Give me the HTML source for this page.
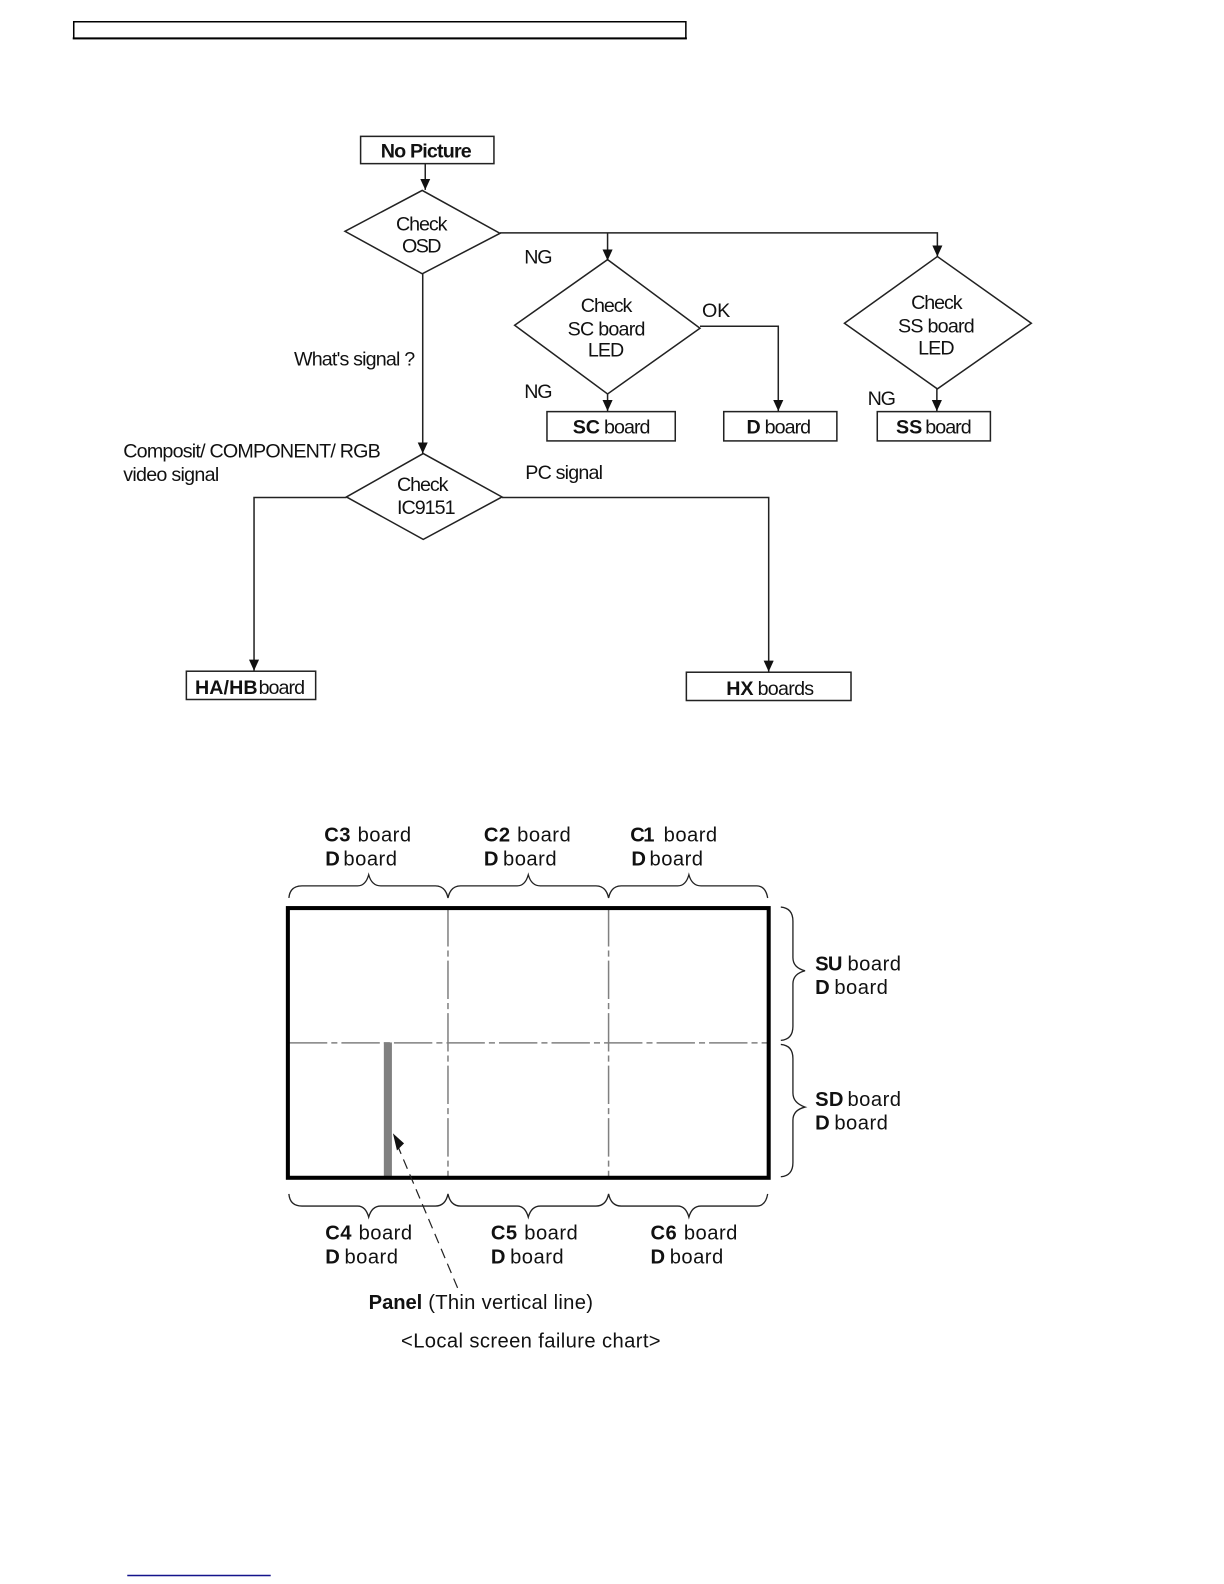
<!DOCTYPE html>
<html><head><meta charset="utf-8"><style>
html,body{margin:0;padding:0;background:#fff}
svg{display:block}
text{font-family:"Liberation Sans",sans-serif;fill:#111}
.f{font-size:19.5px}
.l{font-size:20px}
.b{font-weight:bold}
</style></head><body>
<svg width="1224" height="1584" viewBox="0 0 1211.76 1568.16" xmlns="http://www.w3.org/2000/svg">
<defs>
<marker id="a" markerWidth="12" markerHeight="12" refX="11" refY="5" orient="auto" markerUnits="userSpaceOnUse"><path d="M0 0L11 5L0 10Z" fill="#111"/></marker>
</defs>
<rect width="1224" height="1584" fill="#fff"/>
<!-- header box -->
<path d="M73 21.5H679V38H73Z" fill="none" stroke="#000" stroke-width="1.5"/>
<rect x="72" y="37" width="608" height="2" fill="#000"/>
<!-- flow shapes -->
<g fill="none" stroke="#222" stroke-width="1.5">
<rect x="357" y="135" width="132" height="27"/>
<path d="M341.500 229L418 188.500L495 231L418 271Z"/>
<path d="M509.500 323L601.500 258L693 326L601.500 391Z" transform="translate(0,-1)"/>
<path d="M836 320L928 254L1021 320L928 385Z"/>
<path d="M343 492L419 449L497 492L419 534Z"/>
<rect x="541.500" y="407.500" width="127" height="29"/>
<rect x="716.500" y="407.500" width="112" height="29"/>
<rect x="868.500" y="407.500" width="112" height="29"/>
<rect x="184.500" y="664.500" width="128" height="28"/>
<rect x="679.500" y="665.500" width="163" height="28"/>
<path d="M421 162V188" marker-end="url(#a)"/>
<path d="M495 230.500H928V254" marker-end="url(#a)"/>
<path d="M601.500 230.500V258" marker-end="url(#a)"/>
<path d="M418.500 271V449" marker-end="url(#a)"/>
<path d="M601.500 390V407" marker-end="url(#a)"/>
<path d="M693 323H770.500V407" marker-end="url(#a)"/>
<path d="M927.500 385V407" marker-end="url(#a)"/>
<path d="M343 492.500H251.500V664" marker-end="url(#a)"/>
<path d="M497 492.500H761V665" marker-end="url(#a)"/>
</g>
<!-- flow text -->
<g class="f">
<text x="377" y="156" class="b" textLength="90" lengthAdjust="spacing">No Picture</text>
<text x="392" y="228" textLength="51" lengthAdjust="spacing">Check</text>
<text x="398" y="250" textLength="39" lengthAdjust="spacing">OSD</text>
<text x="519" y="261" textLength="28" lengthAdjust="spacing">NG</text>
<text x="575" y="309" textLength="51" lengthAdjust="spacing">Check</text>
<text x="562" y="332" textLength="77" lengthAdjust="spacing">SC board</text>
<text x="582" y="353" textLength="36" lengthAdjust="spacing">LED</text>
<text x="695" y="314" textLength="28" lengthAdjust="spacing">OK</text>
<text x="519" y="394" textLength="28" lengthAdjust="spacing">NG</text>
<text x="902" y="306" textLength="51" lengthAdjust="spacing">Check</text>
<text x="889" y="329" textLength="76" lengthAdjust="spacing">SS board</text>
<text x="909" y="351" textLength="36" lengthAdjust="spacing">LED</text>
<text x="859" y="401" textLength="28" lengthAdjust="spacing">NG</text>
<text x="291" y="362" textLength="120" lengthAdjust="spacing">What's signal ?</text>
<text x="122" y="453" textLength="255" lengthAdjust="spacing">Composit/ COMPONENT/ RGB</text>
<text x="122" y="476" textLength="95" lengthAdjust="spacing">video signal</text>
<text x="393" y="486" textLength="51" lengthAdjust="spacing">Check</text>
<text x="393" y="509" textLength="58" lengthAdjust="spacing">IC9151</text>
<text x="520" y="474" textLength="77" lengthAdjust="spacing">PC signal</text>
<text x="567" y="429" class="b" textLength="27" lengthAdjust="spacing">SC</text>
<text x="598" y="429" textLength="46" lengthAdjust="spacing">board</text>
<text x="739" y="429" class="b" textLength="14" lengthAdjust="spacing">D</text>
<text x="757" y="429" textLength="46" lengthAdjust="spacing">board</text>
<text x="887" y="429" class="b" textLength="26" lengthAdjust="spacing">SS</text>
<text x="916" y="429" textLength="46" lengthAdjust="spacing">board</text>
<text x="193" y="687" class="b" textLength="62" lengthAdjust="spacing">HA/HB</text>
<text x="256" y="687" textLength="46" lengthAdjust="spacing">board</text>
<text x="719" y="688" class="b" textLength="27" lengthAdjust="spacing">HX</text>
<text x="750" y="688" textLength="56" lengthAdjust="spacing">boards</text>
</g>
<!-- panel -->
<rect x="380" y="1032" width="8" height="134" fill="#808080"/>
<g fill="none" stroke="#808080" stroke-width="1.500">
<path d="M286 1032.500H761" stroke-dasharray="38 4 6 4"/>
<path d="M443.500 899V1165" stroke-dasharray="38 4 6 4"/>
<path d="M602.500 899V1165" stroke-dasharray="38 4 6 4"/>
</g>
<rect x="285" y="899" width="476" height="267" fill="none" stroke="#000" stroke-width="4"/>
<!-- braces -->
<g fill="none" stroke="#222" stroke-width="1.300">
<path d="M286 889Q287 877 299 877H354Q362 877 365 866Q368 877 377 877H431Q441 877 443.500 889Q446 877 456 877H512Q520 877 523 866Q526 877 535 877H590Q600 877 602.500 889Q605 877 615 877H671Q679 877 682 866Q685 877 694 877H749Q758 877 760 889"/>
<path d="M286 1182Q287 1194 299 1194H354Q362 1194 365 1205Q368 1194 377 1194H431Q441 1194 443.500 1182Q446 1194 456 1194H512Q520 1194 523 1205Q526 1194 535 1194H590Q600 1194 602.500 1182Q605 1194 615 1194H671Q679 1194 682 1205Q685 1194 694 1194H749Q758 1194 760 1182"/>
<path d="M773 898Q785 899 785 912V948Q785 958 797 961Q785 964 785 974V1016Q785 1029 773 1030"/>
<path d="M773 1034Q785 1035 785 1048V1082Q785 1092 797 1096Q785 1099 785 1109V1151Q785 1164 773 1165"/>
</g>
<!-- dashed arrow -->
<path d="M453 1275L394 1135" fill="none" stroke="#222" stroke-width="1.200" stroke-dasharray="10 6"/>
<path d="M389 1122L400 1132L393 1139Z" fill="#111"/>
<!-- panel text -->
<g class="l">
<text x="321" y="833" class="b" textLength="26" lengthAdjust="spacing">C3</text><text x="354" y="833" textLength="53" lengthAdjust="spacing">board</text>
<text x="322" y="857" class="b" textLength="14" lengthAdjust="spacing">D</text><text x="340" y="857" textLength="53" lengthAdjust="spacing">board</text>
<text x="479" y="833" class="b" textLength="26" lengthAdjust="spacing">C2</text><text x="512" y="833" textLength="53" lengthAdjust="spacing">board</text>
<text x="479" y="857" class="b" textLength="14" lengthAdjust="spacing">D</text><text x="498" y="857" textLength="53" lengthAdjust="spacing">board</text>
<text x="624" y="833" class="b" textLength="24" lengthAdjust="spacing">C1</text><text x="657" y="833" textLength="53" lengthAdjust="spacing">board</text>
<text x="625" y="857" class="b" textLength="14" lengthAdjust="spacing">D</text><text x="643" y="857" textLength="53" lengthAdjust="spacing">board</text>
<text x="807" y="961" class="b" textLength="27" lengthAdjust="spacing">SU</text><text x="839" y="961" textLength="53" lengthAdjust="spacing">board</text>
<text x="807" y="984" class="b" textLength="14" lengthAdjust="spacing">D</text><text x="826" y="984" textLength="53" lengthAdjust="spacing">board</text>
<text x="807" y="1095" class="b" textLength="28" lengthAdjust="spacing">SD</text><text x="839" y="1095" textLength="53" lengthAdjust="spacing">board</text>
<text x="807" y="1118" class="b" textLength="14" lengthAdjust="spacing">D</text><text x="826" y="1118" textLength="53" lengthAdjust="spacing">board</text>
<text x="322" y="1227" class="b" textLength="26" lengthAdjust="spacing">C4</text><text x="355" y="1227" textLength="53" lengthAdjust="spacing">board</text>
<text x="322" y="1251" class="b" textLength="14" lengthAdjust="spacing">D</text><text x="341" y="1251" textLength="53" lengthAdjust="spacing">board</text>
<text x="486" y="1227" class="b" textLength="26" lengthAdjust="spacing">C5</text><text x="519" y="1227" textLength="53" lengthAdjust="spacing">board</text>
<text x="486" y="1251" class="b" textLength="14" lengthAdjust="spacing">D</text><text x="505" y="1251" textLength="53" lengthAdjust="spacing">board</text>
<text x="644" y="1227" class="b" textLength="26" lengthAdjust="spacing">C6</text><text x="677" y="1227" textLength="53" lengthAdjust="spacing">board</text>
<text x="644" y="1251" class="b" textLength="14" lengthAdjust="spacing">D</text><text x="663" y="1251" textLength="53" lengthAdjust="spacing">board</text>
<text x="365" y="1296" class="b" textLength="53" lengthAdjust="spacing">Panel</text><text x="424" y="1296" textLength="163" lengthAdjust="spacing">(Thin vertical line)</text>
<text x="397" y="1334" textLength="257" lengthAdjust="spacing">&lt;Local screen failure chart&gt;</text>
</g>
<!-- bottom rule -->
<rect x="126" y="1559" width="142" height="1.500" fill="#14148c"/>
</svg>
</body></html>
